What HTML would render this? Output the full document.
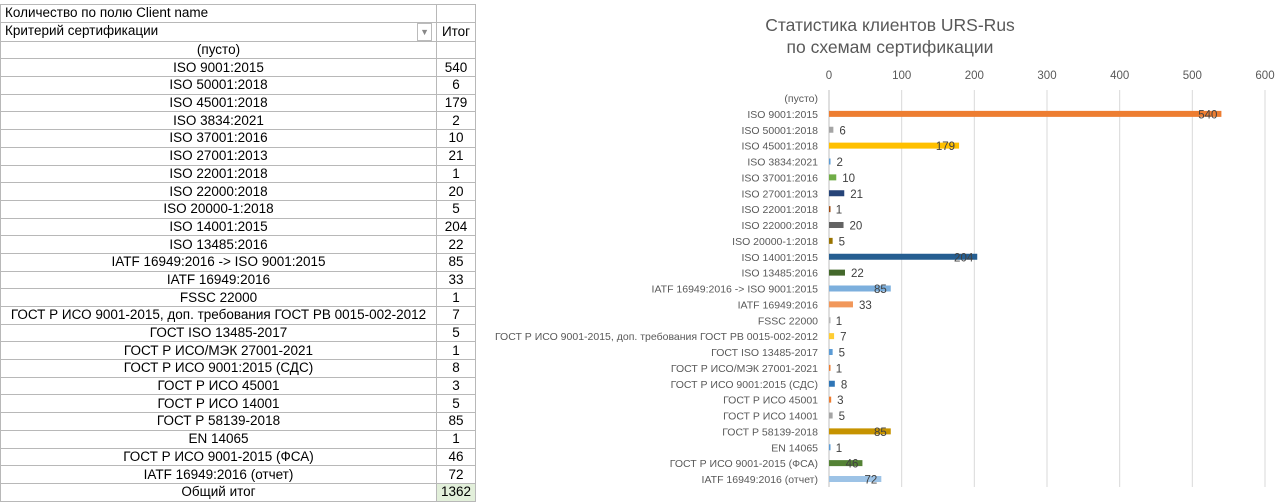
<!DOCTYPE html>
<html><head><meta charset="utf-8"><style>
body{margin:0;width:1280px;height:504px;background:#fff;font-family:"Liberation Sans","Noto Sans CJK SC",sans-serif;overflow:hidden;position:relative}
#tbl{position:absolute;left:0;top:4px;border-collapse:collapse;font-size:13.5px;color:#000}
#tbl td{border:1px solid #b8b8b8;height:16.7px;padding:0 4px;white-space:nowrap;line-height:16px}
#tbl td.l{width:427px;text-align:center}
#tbl td.v{width:30px;text-align:center}
#chart{position:absolute;left:484px;top:0}
</style></head><body>
<table id="tbl"><tbody id="tb"></tbody></table>
<svg id="chart" width="796" height="504"></svg>
<script>
const categories=["(пусто)","ISO 9001:2015","ISO 50001:2018","ISO 45001:2018","ISO 3834:2021","ISO 37001:2016","ISO 27001:2013","ISO 22001:2018","ISO 22000:2018","ISO 20000-1:2018","ISO 14001:2015","ISO 13485:2016","IATF 16949:2016 -> ISO 9001:2015","IATF 16949:2016","FSSC 22000","ГОСТ Р ИСО 9001-2015, доп. требования ГОСТ РВ 0015-002-2012","ГОСТ ISO 13485-2017","ГОСТ Р ИСО/МЭК 27001-2021","ГОСТ Р ИСО 9001:2015 (СДС)","ГОСТ Р ИСО 45001","ГОСТ Р ИСО 14001","ГОСТ Р 58139-2018","EN 14065","ГОСТ Р ИСО 9001-2015 (ФСА)","IATF 16949:2016 (отчет)"];
const values=[null,540,6,179,2,10,21,1,20,5,204,22,85,33,1,7,5,1,8,3,5,85,1,46,72];
const ticks=[0,100,200,300,400,500,600];
const colors=["#4472C4","#ED7D31","#A5A5A5","#FFC000","#5B9BD5","#70AD47","#264478","#9E480E","#636363","#997300","#255E91","#43682B","#7CAFDD","#F1975A","#B7B7B7","#FFCD33","#5B9BD5","#ED7D31","#2E75B6","#ED7D31","#A5A5A5","#C69300","#5B9BD5","#548235","#9DC3E6"];
const NS="http://www.w3.org/2000/svg";
const tb=document.getElementById('tb');
function row(a,b,name,extra){const tr=document.createElement('tr');


tr.innerHTML='<td class="l"'+(extra||'')+'>'+a+'</td><td class="v">'+b+'</td>';tb.appendChild(tr);return tr;}
row('Количество по полю Client name','','table-title-row',' style="text-align:left"');
const h=row('Критерий сертификации <span style="float:right;font-size:9px;color:#888;border:1px solid #bbb;padding:0 2px">▼</span>','Итог','table-header-row',' style="text-align:left"');
categories.forEach((c,i)=>row(c,values[i]==null?'':values[i],'table-row'));
const tot=row('Общий итог',values.reduce((s,v)=>s+(v||0),0),'table-total-row');
tot.children[1].style.background='#e2efda';
const svg=document.getElementById('chart');
const X0=829-484,X1=1265-484,Y0=98,DY=15.875;
const xs=v=>X0+(X1-X0)*v/600, ys=i=>Y0+i*DY;
function el(t,a,txt){const e=document.createElementNS(NS,t);for(const k in a)e.setAttribute(k,a[k]);if(txt!=null)e.textContent=txt;svg.appendChild(e);return e;}
let t=el('text',{x:406,y:31,'font-size':17.5,fill:'#595959','text-anchor':'middle'},'Статистика клиентов URS-Rus');


t=el('text',{x:406,y:53,'font-size':17.5,fill:'#595959','text-anchor':'middle'},'по схемам сертификации');


ticks.forEach(v=>{const g=el('line',{x1:xs(v),x2:xs(v),y1:90,y2:487,stroke:v==0?'#bfbfbf':'#d9d9d9','stroke-width':1});


const l=el('text',{x:xs(v),y:79,'font-size':11.5,fill:'#595959','text-anchor':'middle'},v);

});
categories.forEach((c,i)=>{const y=ys(i);
const l=el('text',{x:X0-11,y:y+4,'font-size':10.5,fill:'#595959','text-anchor':'end'},c);


if(l.getComputedTextLength()>X0-21){l.setAttribute('textLength',X0-21);l.setAttribute('lengthAdjust','spacingAndGlyphs');}
const v=values[i];if(v==null)return;
const r=el('rect',{x:X0,y:y-3,width:Math.max(xs(v)-X0,1.5),height:6,fill:colors[i]});


const w=xs(v)-X0;
const d=el('text',{x:w>30?xs(v)-4:xs(v)+6,y:y+4.5,'font-size':11.5,fill:'#404040','text-anchor':w>30?'end':'start'},v);

});
</script>
</body></html>
